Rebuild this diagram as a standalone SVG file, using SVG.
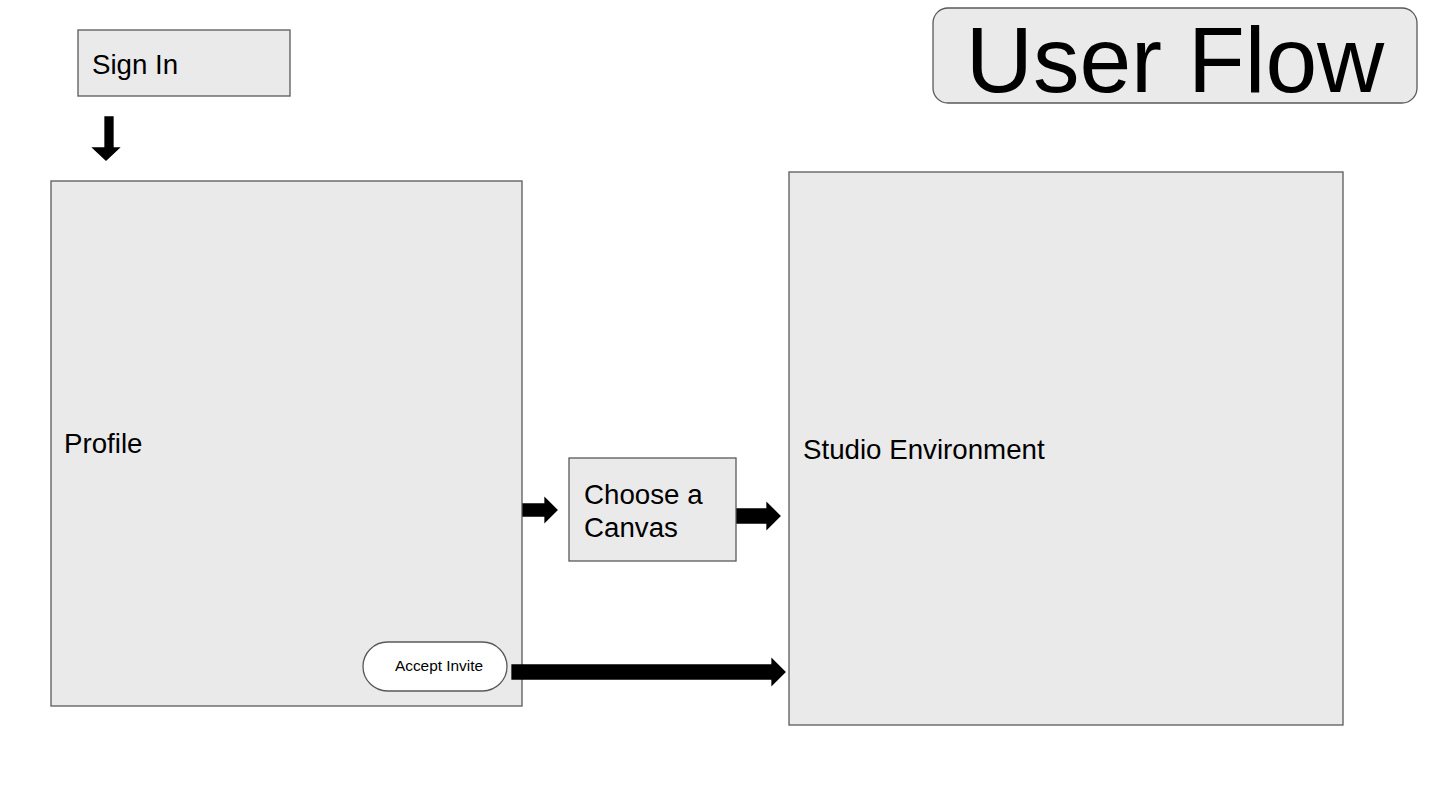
<svg xmlns="http://www.w3.org/2000/svg" width="1433" height="804" viewBox="0 0 1433 804">
<style>
.box{fill:#eaeaea;stroke:#595959;stroke-width:1.3}
.pill{fill:#ffffff;stroke:#595959;stroke-width:1.3}
.lbl{font-family:"Liberation Sans",Arial,sans-serif;font-size:27.7px;fill:#000}
.arr{fill:#000;stroke:#000;stroke-width:1.3;stroke-linejoin:miter}
</style>
<rect width="1433" height="804" fill="#ffffff"/>
<g id="title">
<rect class="box" x="933" y="8" width="484" height="95" rx="15"/>
<text x="1175" y="92" text-anchor="middle" font-family="Liberation Sans, Arial, sans-serif" font-size="93" fill="#000">User Flow</text>
</g>
<g id="sign-in">
<rect class="box" x="78" y="30" width="212" height="66"/>
<text class="lbl" x="92" y="74">Sign In</text>
</g>
<g id="profile">
<rect class="box" x="51" y="181" width="471" height="525"/>
<text class="lbl" x="64" y="453">Profile</text>
</g>
<g id="accept-invite">
<rect class="pill" x="363" y="642" width="144" height="49" rx="24.5"/>
<text x="439" y="671" text-anchor="middle" font-family="Liberation Sans, Arial, sans-serif" font-size="15.4" fill="#000">Accept Invite</text>
</g>
<g id="choose-canvas">
<rect class="box" x="569" y="458" width="167" height="103"/>
<text class="lbl" x="584" y="504">Choose a</text>
<text class="lbl" x="584" y="537">Canvas</text>
</g>
<g id="studio">
<rect class="box" x="789" y="172" width="554" height="553"/>
<text class="lbl" x="803" y="459">Studio Environment</text>
</g>
<g id="connectors">
<path class="arr" d="M105 117 H113 V148 H119 L106 160 L93 148 H105 Z"/>
<path class="arr" d="M523 504 H545 V498 L557 510 L545 522 V516 H523 Z"/>
<path class="arr" d="M737 509 H767 V503 L780 516 L767 529 V523 H737 Z"/>
<path class="arr" d="M512 665 H772 V659 L785 672 L772 685 V679 H512 Z"/>
</g>
</svg>
